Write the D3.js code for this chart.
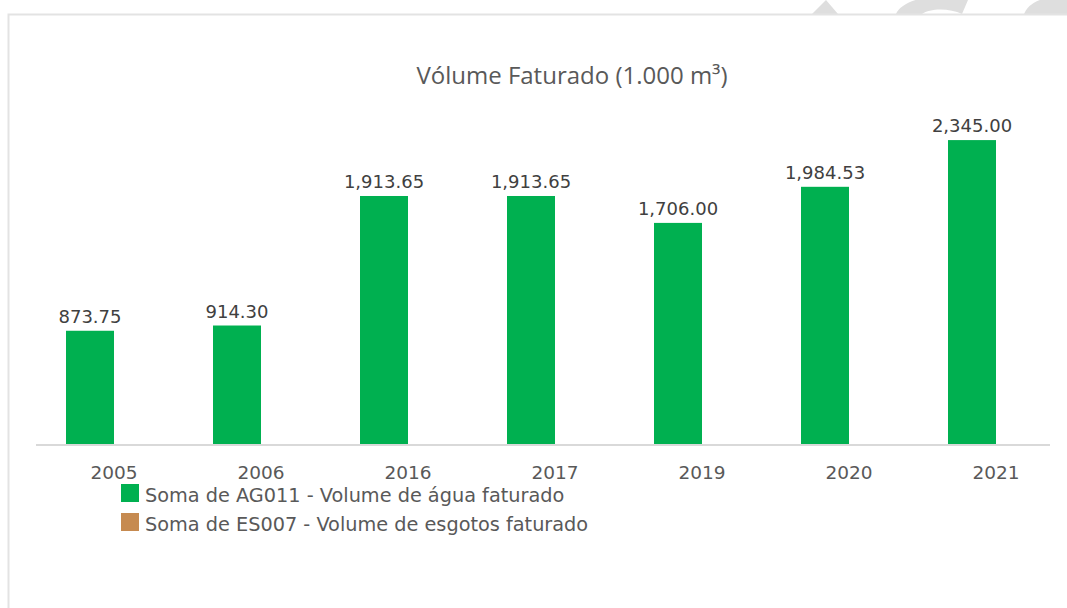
<!DOCTYPE html>
<html>
<head>
<meta charset="utf-8">
<script src="https://cdn.jsdelivr.net/npm/d3@7"></script>
<style>
  html, body { margin: 0; padding: 0; background: #ffffff; }
  svg { display: block; }
</style>
</head>
<body>
<svg id="chart" width="1067" height="608"></svg>
<script>
// Billed water volume per year (thousand m³)
const years = ["2005", "2006", "2016", "2017", "2019", "2020", "2021"];
const aguaFaturada = [873.75, 914.30, 1913.65, 1913.65, 1706.00, 1984.53, 2345.00];
const legendLabels = [
  "Soma de AG011 - Volume de água faturado",
  "Soma de ES007 - Volume de esgotos faturado"
];
const seriesColors = ["#00B050", "#C68A50"];
const titleText = "Vólume Faturado (1.000 m³)";

const svg = d3.select("#chart");
const W = 1067, H = 608;
const titleFont = "'Open Sans', 'DejaVu Sans', sans-serif";
const font = "'DejaVu Sans', 'Open Sans', sans-serif";

// faint background watermark shapes in the top margin
const wm = svg.append("g").attr("fill", "#dedede");
wm.append("path").attr("d", "M812,14 L826,0 L838,14 Z");
wm.append("path").attr("d", "M896,14 C900,4 920,-6 950,-2 L968,0 L962,14 C950,8 930,8 922,14 Z");
wm.append("path").attr("d", "M1024,14 C1028,4 1040,-4 1067,-4 L1067,14 Z");

// chart area frame
svg.append("path")
  .attr("d", `M8.5,${H} L8.5,14.5 L${W},14.5`)
  .attr("fill", "none")
  .attr("stroke", "#e3e3e3")
  .attr("stroke-width", 2);

// scales
const step = 147, x0 = 16.5;
const x = d3.scaleBand()
  .domain(years)
  .range([x0, x0 + step * years.length])
  .paddingInner(99 / 147)
  .paddingOuter(99 / 147 / 2);

const baseY = 444;
const y = d3.scaleLinear().domain([0, 2500]).range([baseY, 120]);

// title
svg.append("text")
  .attr("x", 572)
  .attr("y", 84)
  .attr("text-anchor", "middle")
  .attr("font-family", titleFont)
  .attr("font-size", 24)
  .attr("fill", "#595959")
  .text(titleText);

// bars
const data = years.map((yr, i) => ({ year: yr, value: aguaFaturada[i] }));
svg.append("g")
  .selectAll("rect")
  .data(data)
  .join("rect")
  .attr("x", d => x(d.year))
  .attr("width", x.bandwidth())
  .attr("y", d => y(d.value))
  .attr("height", d => y(0) - y(d.value))
  .attr("fill", seriesColors[0]);

// baseline
svg.append("line")
  .attr("x1", 36).attr("x2", 1050)
  .attr("y1", baseY + 1).attr("y2", baseY + 1)
  .attr("stroke", "#d9d9d9")
  .attr("stroke-width", 2);

// value labels
const fmt = d3.format(",.2f");
svg.append("g")
  .selectAll("text")
  .data(data)
  .join("text")
  .attr("x", d => x(d.year) + x.bandwidth() / 2)
  .attr("y", d => y(d.value) - 8)
  .attr("text-anchor", "middle")
  .attr("font-family", font)
  .attr("font-size", 18)
  .attr("fill", "#404040")
  .text(d => fmt(d.value));

// category axis (labels sit half a bar to the right of each bar centre)
const axis = d3.axisBottom(x).tickSize(0).tickPadding(0);
const gAxis = svg.append("g")
  .attr("transform", `translate(0,${baseY})`)
  .call(axis);
gAxis.select(".domain").remove();
gAxis.selectAll("text")
  .attr("dy", 0)
  .attr("y", 35)
  .attr("dx", x.bandwidth() / 2)
  .attr("font-family", font)
  .attr("font-size", 18.5)
  .attr("fill", "#595959");

// legend
const legend = svg.append("g").attr("transform", "translate(121,484)");
legendLabels.forEach((label, i) => {
  const g = legend.append("g").attr("transform", `translate(0,${i * 29})`);
  g.append("rect")
    .attr("width", 18).attr("height", 18)
    .attr("fill", seriesColors[i]);
  g.append("text")
    .attr("x", 24)
    .attr("y", 17.5)
    .attr("font-family", font)
    .attr("font-size", 19.3)
    .attr("fill", "#595959")
    .text(label);
});
</script>
</body>
</html>
